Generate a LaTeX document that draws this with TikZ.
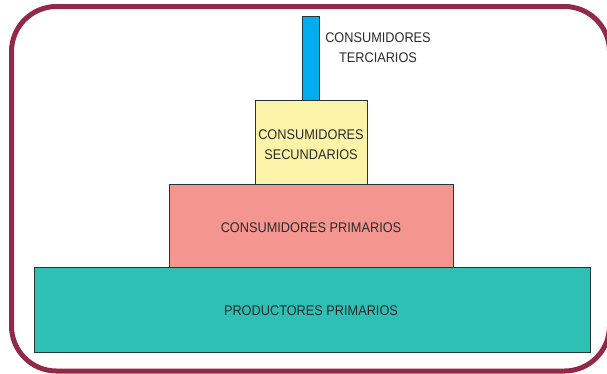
\documentclass[tikz,border=0pt]{standalone}
\usepackage{fontspec}
\setmainfont[FakeStretch=0.91]{Liberation Sans}
\usepackage{tikz}
\usepackage{xcolor}
\usetikzlibrary{positioning}
\definecolor{mFrame}{HTML}{912A47}
\definecolor{mTeal}{HTML}{2EBFB5}
\definecolor{mPink}{HTML}{F4958F}
\definecolor{mYellow}{HTML}{FAF3A8}
\definecolor{mBlue}{HTML}{00AEEF}
\definecolor{mEdge}{HTML}{253838}
\definecolor{mText}{HTML}{2B2B2B}

\begin{document}
\begin{tikzpicture}[
  x=1pt, y=-1pt,
  level/.style={draw=mEdge, line width=0.9pt, inner sep=0pt, outer sep=0pt},
  tag/.style={inner sep=0pt, font=\fontsize{14}{20}\selectfont, text=mText, align=center},
]
  \useasboundingbox (0,0) rectangle (607,373);
  % frame
  \draw[mFrame, line width=5pt, rounded corners=45pt] (11.5,6.5) rectangle (609.5,371);
  % pyramid levels
  \node[level, fill=mTeal, minimum width=556pt, minimum height=85pt] (prod) at (312,309.5) {};
  \node[level, fill=mPink, minimum width=284pt, minimum height=83pt] (prim) at (311,225.5) {};
  \node[level, fill=mYellow, minimum width=112pt, minimum height=84pt] (sec) at (311,142) {};
  \node[level, fill=mBlue, minimum width=17pt, minimum height=84pt] (ter) at (310.5,58) {};
  % labels
  \node[tag] (prodtag) at (311,311) {PRODUCTORES PRIMARIOS};
  \node[tag] (primtag) at (311,228) {CONSUMIDORES PRIMARIOS};
  \node[tag] (sectag) at (311,144.5) {CONSUMIDORES\\SECUNDARIOS};
  \node[tag] (tertag) at (378,47.5) {CONSUMIDORES\\TERCIARIOS};
\end{tikzpicture}
\end{document}
